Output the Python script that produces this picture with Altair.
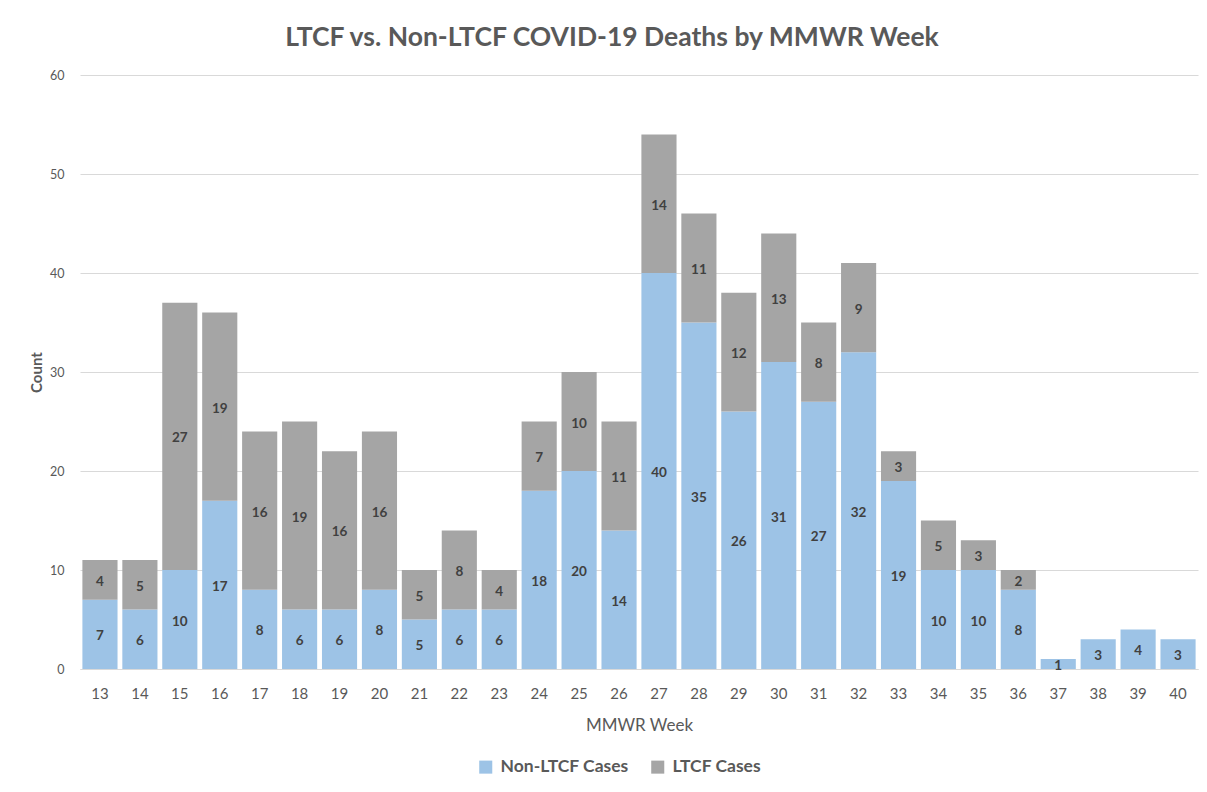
import altair as alt
import pandas as pd

weeks = list(range(13, 41))
non_ltcf = [7, 6, 10, 17, 8, 6, 6, 8, 5, 6, 6, 18, 20, 14, 40, 35, 26, 31, 27, 32, 19, 10, 10, 8, 1, 3, 4, 3]
ltcf = [4, 5, 27, 19, 16, 19, 16, 16, 5, 8, 4, 7, 10, 11, 14, 11, 12, 13, 8, 9, 3, 5, 3, 2, 0, 0, 0, 0]
series = ["Non-LTCF Cases", "LTCF Cases"]
colors = ["#9DC3E6", "#A5A5A5"]

rows = []
for w, a, b in zip(weeks, non_ltcf, ltcf):
    rows.append({"week": str(w), "series": series[0], "order": 0, "value": a})
    rows.append({"week": str(w), "series": series[1], "order": 1, "value": b})
df = pd.DataFrame(rows)

FONT = "Lato"
x_enc = alt.X("week:N", sort=[str(w) for w in weeks],
              scale=alt.Scale(paddingInner=0.12, paddingOuter=0.06),
              axis=alt.Axis(title="MMWR Week", labelAngle=0, labelFontSize=15,
                            labelColor="#595959", titleFontSize=17, titleFontWeight="normal",
                            titleColor="#595959", titlePadding=16, ticks=False,
                            domainColor="#D9D9D9", labelPadding=17, labelFont=FONT, titleFont=FONT))

base = alt.Chart(df).transform_stack(
    stack="value", groupby=["week"], as_=["y0", "y1"],
    sort=[alt.SortField("order", "ascending")]
).transform_calculate(mid="(datum.y0 + datum.y1) / 2")

bars = base.mark_bar().encode(
    x=x_enc,
    y=alt.Y("y0:Q", scale=alt.Scale(domain=[0, 60]),
            axis=alt.Axis(title="Count", values=[0, 10, 20, 30, 40, 50, 60], labelFontSize=12.5,
                          labelColor="#595959", titleFontSize=15, titleColor="#595959",
                          titleFontWeight="bold", gridColor="#D9D9D9", domain=False, ticks=False,
                          labelPadding=16, titlePadding=5, labelFont=FONT, titleFont=FONT)),
    y2="y1:Q",
    color=alt.Color("series:N", scale=alt.Scale(domain=series, range=colors),
                    sort=series,
                    legend=alt.Legend(title=None, orient="none", legendX=397, legendY=683,
                                      direction="horizontal",
                                      symbolType="square", symbolSize=170, labelFontSize=17.5,
                                      labelFontWeight="bold", labelColor="#595959",
                                      labelFont=FONT, columnPadding=20, labelOffset=6,
                                      symbolStrokeWidth=0)),
)

labels = base.transform_filter("datum.value > 0").mark_text(
    font=FONT, fontSize=13.5, fontWeight="bold", color="#404040", dy=2
).encode(
    x=alt.X("week:N", sort=[str(w) for w in weeks]),
    y=alt.Y("mid:Q"),
    text="value:Q",
)

chart = alt.layer(bars, labels).properties(
    width=1118, height=594,
    title=alt.TitleParams("LTCF vs. Non-LTCF COVID-19 Deaths by MMWR Week", fontSize=26.5,
                          font=FONT, fontWeight="bold", color="#595959", offset=18, dx=-27),
    autosize=alt.AutoSizeParams(type="none"),
    padding={"left": 72, "top": 67, "right": 1, "bottom": 115},
).configure_view(stroke=None)

chart.save("out.html", embed_options={"renderer": "svg", "actions": False})
